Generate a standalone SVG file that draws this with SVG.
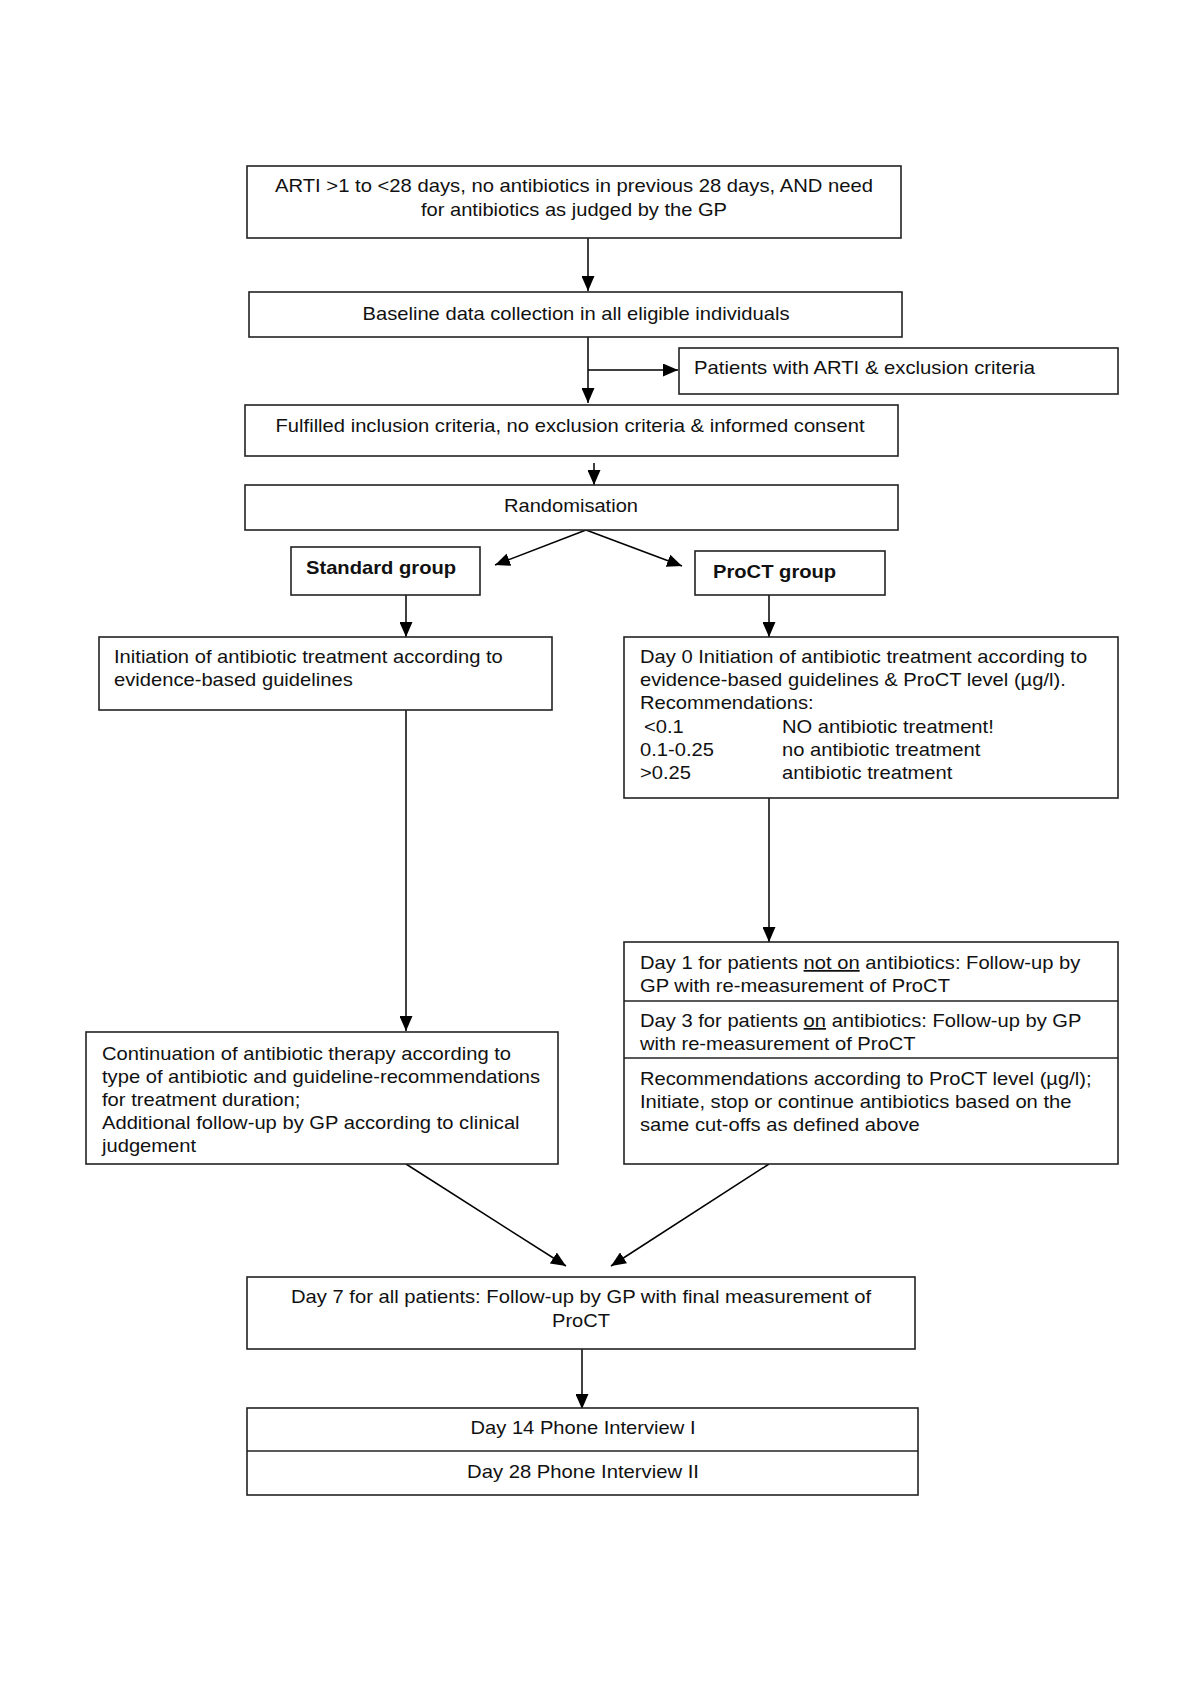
<svg xmlns="http://www.w3.org/2000/svg" width="1200" height="1698" viewBox="0 0 1200 1698">
<defs>
<marker id="ah" markerWidth="15" markerHeight="13" refX="15" refY="6.5" orient="auto" markerUnits="userSpaceOnUse">
<path d="M0,0 L15,6.5 L0,13 Z" fill="#000"/>
</marker>
<style>
rect{fill:#fff;stroke:#222;stroke-width:1.6}
.dv{stroke:#222;stroke-width:1.6}
text{font-family:"Liberation Sans",Arial,sans-serif;font-size:19px;fill:#111}
.n{font-size:18px}
.c{text-anchor:middle}
.b{font-weight:bold}
.cn line{stroke:#000;stroke-width:1.5;fill:none}
</style>
</defs>
<rect x="0" y="0" width="1200" height="1698" style="fill:#fff;stroke:none"/>
<g class="cn" id="connectors">
<line x1="588" y1="238" x2="588" y2="291" marker-end="url(#ah)"/>
<line x1="588" y1="337" x2="588" y2="403" marker-end="url(#ah)"/>
<line x1="588" y1="370" x2="678" y2="370" marker-end="url(#ah)"/>
<line x1="594" y1="463" x2="594" y2="485" marker-end="url(#ah)"/>
<line x1="586" y1="530" x2="495" y2="565" marker-end="url(#ah)"/>
<line x1="586" y1="530" x2="682" y2="566" marker-end="url(#ah)"/>
<line x1="406" y1="595" x2="406" y2="637" marker-end="url(#ah)"/>
<line x1="769" y1="595" x2="769" y2="637" marker-end="url(#ah)"/>
<line x1="406" y1="710" x2="406" y2="1031" marker-end="url(#ah)"/>
<line x1="769" y1="798" x2="769" y2="942" marker-end="url(#ah)"/>
<line x1="406" y1="1164" x2="566" y2="1266" marker-end="url(#ah)"/>
<line x1="769" y1="1164" x2="611" y2="1266" marker-end="url(#ah)"/>
<line x1="582" y1="1349" x2="582" y2="1409" marker-end="url(#ah)"/>
</g>
<g id="n1">
<rect x="247" y="166" width="654" height="72"/>
<text class="c" x="574" y="192" textLength="598" lengthAdjust="spacingAndGlyphs">ARTI &gt;1 to &lt;28 days, no antibiotics in previous 28 days, AND need</text>
<text class="c" x="574" y="216" textLength="306" lengthAdjust="spacingAndGlyphs">for antibiotics as judged by the GP</text>
</g>
<g id="n2">
<rect x="249" y="292" width="653" height="45"/>
<text class="c" x="576" y="320" textLength="427" lengthAdjust="spacingAndGlyphs">Baseline data collection in all eligible individuals</text>
</g>
<g id="n3">
<rect x="679" y="348" width="439" height="46"/>
<text x="694" y="374" textLength="341" lengthAdjust="spacingAndGlyphs">Patients with ARTI &amp; exclusion criteria</text>
</g>
<g id="n4">
<rect x="245" y="405" width="653" height="51"/>
<text class="c" x="570" y="432" textLength="589" lengthAdjust="spacingAndGlyphs">Fulfilled inclusion criteria, no exclusion criteria &amp; informed consent</text>
</g>
<g id="n5">
<rect x="245" y="485" width="653" height="45"/>
<text class="c" x="571" y="512" textLength="134" lengthAdjust="spacingAndGlyphs">Randomisation</text>
</g>
<g id="n6">
<rect x="291" y="547" width="189" height="48"/>
<g transform="translate(306,0) scale(1.12,1)"><text class="b n" x="0" y="574">Standard group</text></g>
</g>
<g id="n7">
<rect x="695" y="551" width="190" height="44"/>
<g transform="translate(713,0) scale(1.12,1)"><text class="b n" x="0" y="578">ProCT group</text></g>
</g>
<g id="n8">
<rect x="99" y="637" width="453" height="73"/>
<g transform="translate(114,0) scale(1.12,1)">
<text class="n" x="0" y="663">Initiation of antibiotic treatment according to</text>
<text class="n" x="0" y="686">evidence-based guidelines</text>
</g>
</g>
<g id="n9">
<rect x="624" y="637" width="494" height="161"/>
<g transform="translate(640,0) scale(1.12,1)">
<text class="n" x="0" y="663">Day 0 Initiation of antibiotic treatment according to</text>
<text class="n" x="0" y="686">evidence-based guidelines &amp; ProCT level (µg/l).</text>
<text class="n" x="0" y="709">Recommendations:</text>
<text class="n" x="3.6" y="733">&lt;0.1</text>
<text class="n" x="126.8" y="733">NO antibiotic treatment!</text>
<text class="n" x="0" y="756">0.1-0.25</text>
<text class="n" x="126.8" y="756">no antibiotic treatment</text>
<text class="n" x="0" y="779">&gt;0.25</text>
<text class="n" x="126.8" y="779">antibiotic treatment</text>
</g>
</g>
<g id="n10">
<rect x="624" y="942" width="494" height="222"/>
<line class="dv" x1="624" y1="1001" x2="1118" y2="1001"/>
<line class="dv" x1="624" y1="1058" x2="1118" y2="1058"/>
<g transform="translate(640,0) scale(1.12,1)">
<text class="n" x="0" y="969">Day 1 for patients <tspan text-decoration="underline">not on</tspan> antibiotics: Follow-up by</text>
<text class="n" x="0" y="992">GP with re-measurement of ProCT</text>
<text class="n" x="0" y="1027">Day 3 for patients <tspan text-decoration="underline">on</tspan> antibiotics: Follow-up by GP</text>
<text class="n" x="0" y="1050">with re-measurement of ProCT</text>
<text class="n" x="0" y="1085">Recommendations according to ProCT level (µg/l);</text>
<text class="n" x="0" y="1108">Initiate, stop or continue antibiotics based on the</text>
<text class="n" x="0" y="1131">same cut-offs as defined above</text>
</g>
</g>
<g id="n11">
<rect x="86" y="1032" width="472" height="132"/>
<g transform="translate(102,0) scale(1.12,1)">
<text class="n" x="0" y="1060">Continuation of antibiotic therapy according to</text>
<text class="n" x="0" y="1083">type of antibiotic and guideline-recommendations</text>
<text class="n" x="0" y="1106">for treatment duration;</text>
<text class="n" x="0" y="1129">Additional follow-up by GP according to clinical</text>
<text class="n" x="0" y="1152">judgement</text>
</g>
</g>
<g id="n12">
<rect x="247" y="1277" width="668" height="72"/>
<text class="c" x="581" y="1303" textLength="580" lengthAdjust="spacingAndGlyphs">Day 7 for all patients: Follow-up by GP with final measurement of</text>
<text class="c" x="581" y="1327" textLength="58" lengthAdjust="spacingAndGlyphs">ProCT</text>
</g>
<g id="n13">
<rect x="247" y="1408" width="671" height="87"/>
<line class="dv" x1="247" y1="1451" x2="918" y2="1451"/>
<text class="c" x="583" y="1434" textLength="225" lengthAdjust="spacingAndGlyphs">Day 14 Phone Interview I</text>
<text class="c" x="583" y="1478" textLength="232" lengthAdjust="spacingAndGlyphs">Day 28 Phone Interview II</text>
</g>
</svg>
